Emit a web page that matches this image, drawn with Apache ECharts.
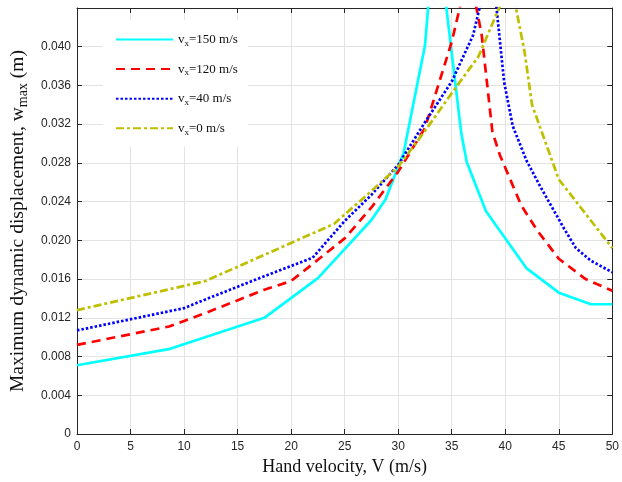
<!DOCTYPE html>
<html>
<head>
<meta charset="utf-8">
<script src="https://cdn.jsdelivr.net/npm/echarts@6/dist/echarts.min.js"></script>
<style>
  html, body { margin: 0; padding: 0; background: #fff; }
  #chart { width: 622px; height: 482px; }
</style>
</head>
<body>
<div id="chart"></div>
<script>
// Hand velocity V (m/s) and maximum dynamic displacement w_max (m) for each axial speed vx
const vel150 = [0, 8.7, 17.5, 22.5, 25, 27.5, 28.8, 30, 30.5, 32.5, 33.5, 35.9, 36.4, 38.2, 42, 45, 48, 50];
const disp150 = [0.0071, 0.0088, 0.0120, 0.0161, 0.0191, 0.0221, 0.0242, 0.0276, 0.0290, 0.0401, 0.0533, 0.0310, 0.0281, 0.0230, 0.0171, 0.0146, 0.0134, 0.0134];

const vel120 = [0, 8.6, 12, 17.5, 20, 22.5, 25, 27.5, 30, 32.5, 35, 36.6, 37.8, 38.3, 38.8, 39.5, 41.5, 43, 45, 47.5, 50];
const disp120 = [0.0092, 0.0111, 0.0125, 0.0149, 0.0158, 0.0180, 0.0202, 0.0234, 0.0271, 0.0316, 0.0405, 0.0480, 0.0412, 0.0362, 0.0312, 0.0288, 0.0236, 0.0210, 0.0181, 0.0160, 0.0148];

const vel40 = [0, 10, 12, 17.5, 22, 25, 27.5, 30, 32.5, 35, 37, 38.7, 39.9, 40.7, 42, 43.3, 45.5, 46.6, 48, 50];
const disp40 = [0.0107, 0.0130, 0.0139, 0.0163, 0.0182, 0.0220, 0.0247, 0.0278, 0.0322, 0.0364, 0.0412, 0.0492, 0.0363, 0.0318, 0.0282, 0.0255, 0.0212, 0.0192, 0.0179, 0.0167];

const vel0 = [0, 12, 24, 27.5, 30, 32.5, 35, 37.5, 40.5, 41.8, 42.5, 45, 50];
const disp0 = [0.0128, 0.0158, 0.0217, 0.0251, 0.0276, 0.0313, 0.0352, 0.0390, 0.0468, 0.0395, 0.0340, 0.0263, 0.0192];

const seriesSpeeds = ['150', '120', '40', '0'];

// Axis ranges
const xMin = 0, xMax = 50, xStep = 5;
const yMin = 0, yMax = 0.044, yStep = 0.004;

const zip = (xs, ys) => xs.map((x, i) => [x, ys[i]]);

const serif = '"Liberation Serif", "Times New Roman", serif';
const sans = 'Arial, "Liberation Sans", sans-serif';
const axisColor = '#262626';
const gridColor = '#e3e3e3';

const legendName = s => '{v|v}{s|x}{t|=' + s + ' m/s}';

const chart = echarts.init(document.getElementById('chart'), null, { renderer: 'canvas' });

const lineSeries = (speed, xs, ys, color, type, width) => ({
  name: legendName(speed),
  type: 'line',
  data: zip(xs, ys),
  symbol: 'none',
  clip: true,
  lineStyle: { color: color, width: width, type: type },
  itemStyle: { color: color },
  emphasis: { disabled: true },
  animation: false
});

const option = {
  backgroundColor: '#fff',
  animation: false,
  grid: { left: 77, right: 5, top: 8, bottom: 48, containLabel: false },
  legend: {
    orient: 'vertical',
    left: 103,
    top: 20,
    padding: [13, 10, 10, 12],
    backgroundColor: '#fff',
    itemWidth: 57,
    itemHeight: 14,
    itemGap: 14.6,
    selectedMode: false,
    itemStyle: { opacity: 0 },
    textStyle: {
      fontFamily: serif,
      fontSize: 13,
      color: '#111',
      rich: {
        v: { fontFamily: serif, fontSize: 13, color: '#111', lineHeight: 16 },
        s: { fontFamily: serif, fontSize: 9, color: '#111', verticalAlign: 'bottom', padding: [8, 0, 0, 0] },
        t: { fontFamily: serif, fontSize: 13, color: '#111', lineHeight: 16 }
      }
    }
  },
  xAxis: [
    {
      type: 'value',
      min: xMin, max: xMax, interval: xStep,
      name: 'Hand velocity, V (m/s)',
      nameLocation: 'middle',
      nameGap: 24,
      nameTextStyle: { fontFamily: serif, fontSize: 18, color: '#111', verticalAlign: 'top' },
      axisLine: { show: true, lineStyle: { color: axisColor, width: 1 } },
      axisTick: { show: true, inside: true, length: 5, lineStyle: { color: axisColor } },
      axisLabel: { fontFamily: sans, fontSize: 12, color: axisColor, margin: 7 },
      splitLine: { show: true, lineStyle: { color: gridColor, width: 1 } }
    },
    {
      type: 'value', position: 'top',
      min: xMin, max: xMax, interval: xStep,
      axisLine: { show: true, onZero: false, lineStyle: { color: axisColor, width: 1 } },
      axisTick: { show: true, inside: true, length: 5, lineStyle: { color: axisColor } },
      axisLabel: { show: false },
      splitLine: { show: false }
    }
  ],
  yAxis: [
    {
      type: 'value',
      min: yMin, max: yMax, interval: yStep,
      name: '{t|Maximum dynamic displacement, w}{s|max}{t| (m)}',
      nameLocation: 'middle',
      nameRotate: 90,
      nameGap: 46,
      nameTextStyle: {
        fontFamily: serif, fontSize: 19.5, color: '#111',
        rich: {
          t: { fontFamily: serif, fontSize: 19.5, color: '#111', lineHeight: 22 },
          s: { fontFamily: serif, fontSize: 14, color: '#111', verticalAlign: 'bottom', padding: [10, 0, 0, 0] }
        }
      },
      axisLine: { show: true, lineStyle: { color: axisColor, width: 1 } },
      axisTick: { show: true, inside: true, length: 5, lineStyle: { color: axisColor } },
      axisLabel: {
        fontFamily: sans, fontSize: 12, color: axisColor, margin: 6,
        formatter: v => {
          if (Math.abs(v) < 1e-9) return '0';
          if (Math.abs(v - yMax) < 1e-9) return '';
          return v.toFixed(3);
        }
      },
      splitLine: { show: true, lineStyle: { color: gridColor, width: 1 } }
    },
    {
      type: 'value', position: 'right',
      min: yMin, max: yMax, interval: yStep,
      axisLine: { show: true, onZero: false, lineStyle: { color: axisColor, width: 1 } },
      axisTick: { show: true, inside: true, length: 5, lineStyle: { color: axisColor } },
      axisLabel: { show: false },
      splitLine: { show: false }
    }
  ],
  series: [
    lineSeries(seriesSpeeds[0], vel150, disp150, '#00ffff', 'solid', 2.7),
    lineSeries(seriesSpeeds[1], vel120, disp120, '#ff0000', [9, 6], 2.7),
    lineSeries(seriesSpeeds[2], vel40, disp40, '#0000ff', [2.5, 2], 2.7),
    lineSeries(seriesSpeeds[3], vel0, disp0, '#bfbf00', [8, 3, 3, 3], 2.7)
  ]
};

chart.setOption(option);
</script>
</body>
</html>
